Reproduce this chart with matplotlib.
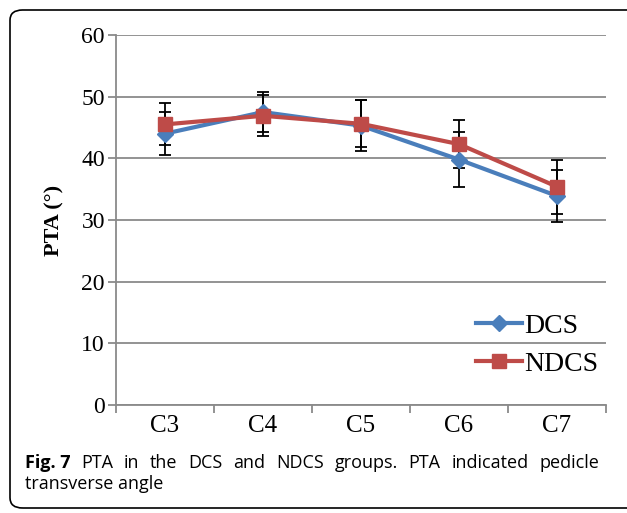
import matplotlib
matplotlib.use("Agg")
import matplotlib.pyplot as plt
from matplotlib.patches import FancyBboxPatch
import numpy as np

categories = ["C3", "C4", "C5", "C6", "C7"]
dcs_mean = [44.0, 47.5, 45.3, 39.8, 33.9]
dcs_err = [3.5, 3.3, 4.1, 4.5, 4.2]
ndcs_mean = [45.5, 46.9, 45.6, 42.3, 35.4]
ndcs_err = [3.4, 3.3, 3.8, 3.9, 4.4]
yticks = [0, 10, 20, 30, 40, 50, 60]
caption_bold = "Fig. 7"
caption_line1 = "PTA in the DCS and NDCS groups. PTA indicated pedicle"
caption_line2 = "transverse angle"

W, H = 627, 513
fig = plt.figure(figsize=(W / 100, H / 100), dpi=100)

def fx(px):
    return px / W

def fy(py):
    return 1 - py / H

ax = fig.add_axes([fx(116), fy(405), fx(606) - fx(116), fy(35) - fy(405)])

serif = ["Liberation Serif", "DejaVu Serif"]
grey = "#8a8a8a"
x = np.arange(len(categories))

ax.set_xlim(-0.5, len(categories) - 0.5)
ax.set_ylim(0, 60)
ax.set_yticks(yticks)
ax.set_yticklabels([str(v) for v in yticks], fontfamily=serif, fontsize=17)
ax.yaxis.grid(True, color=grey, linewidth=1.3)
ax.set_axisbelow(True)

ax.set_xticks(np.arange(len(categories) + 1) - 0.5)
ax.set_xticklabels([])
ax.set_xticks(x, minor=True)
ax.set_xticklabels(categories, minor=True, fontfamily=serif, fontsize=18)
ax.tick_params(axis="x", which="minor", length=0, pad=7)
ax.tick_params(axis="x", which="major", length=6, color=grey, width=1.3, direction="out")
ax.tick_params(axis="y", length=6, color=grey, width=1.3, pad=2)

for s in ["top", "right"]:
    ax.spines[s].set_visible(False)
for s in ["left", "bottom"]:
    ax.spines[s].set_color(grey)
    ax.spines[s].set_linewidth(1.3)

ax.set_ylabel("PTA (°)", fontfamily=serif, fontsize=16, fontweight="bold", labelpad=12)

blue = "#4a7ebb"
red = "#be4b48"

ax.errorbar(x, dcs_mean, yerr=dcs_err, fmt="none", ecolor="black", elinewidth=1.3,
            capsize=4, capthick=1.3, zorder=3)
ax.errorbar(x, ndcs_mean, yerr=ndcs_err, fmt="none", ecolor="black", elinewidth=1.3,
            capsize=4, capthick=1.3, zorder=3)
ax.plot(x, dcs_mean, color=blue, linewidth=3, marker="D", markersize=8,
        markerfacecolor=blue, markeredgecolor=blue, label="DCS", zorder=4)
ax.plot(x, ndcs_mean, color=red, linewidth=3, marker="s", markersize=10,
        markerfacecolor=red, markeredgecolor=red, label="NDCS", zorder=5)

leg = fig.legend(loc="center left", bbox_to_anchor=(fx(476), fy(345)),
                 frameon=False, prop={"family": serif, "size": 20},
                 handlelength=1.65, handletextpad=0.08, labelspacing=0.45,
                 borderpad=0, borderaxespad=0)

# frame around the figure
frame = FancyBboxPatch((fx(10), fy(508)), fx(660) - fx(10), fy(10) - fy(508),
                       boxstyle="round,pad=0,rounding_size=0.02",
                       transform=fig.transFigure, fill=False,
                       edgecolor="black", linewidth=1.2, clip_on=False)
fig.patches.append(frame)

# caption with justified first line
cap_font = ["Open Sans", "DejaVu Sans"]
cap_size = 13
fig.canvas.draw()
renderer = fig.canvas.get_renderer()

x0, x1 = 25, 599
y1 = 463
words = [(caption_bold, "bold")] + [(w, "normal") for w in caption_line1.split()]
texts = []
for w, wt in words:
    t = fig.text(0, fy(y1), w, fontfamily=cap_font, fontsize=cap_size,
                 fontweight=wt, va="center", ha="left")
    texts.append(t)
widths = [t.get_window_extent(renderer).width for t in texts]
gap = (x1 - x0 - sum(widths)) / (len(texts) - 1)
cur = x0
for t, wdt in zip(texts, widths):
    t.set_x(fx(cur))
    cur += wdt + gap

fig.text(fx(x0), fy(484), caption_line2, fontfamily=cap_font, fontsize=cap_size,
         va="center", ha="left")

fig.savefig("out.png", dpi=100)
